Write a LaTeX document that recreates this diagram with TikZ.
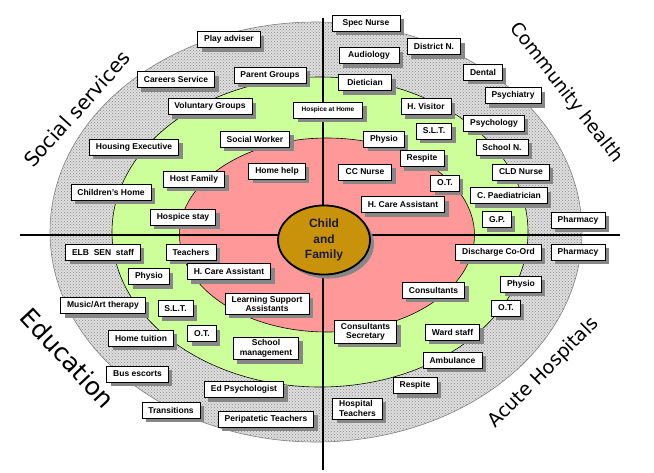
\documentclass[tikz,border=0pt]{standalone}
\usepackage{fontspec}
\setmainfont{Liberation Sans}
\newfontfamily\titlefont{DejaVu Sans}
\usepackage{tikz}
\usetikzlibrary{shapes.geometric, shadows, patterns}
\usepackage{xcolor}

\definecolor{ringgray}{RGB}{222,222,222}
\definecolor{ringgreen}{RGB}{204,255,153}
\definecolor{ringred}{RGB}{255,153,153}
\definecolor{hubgold}{RGB}{200,146,10}
\definecolor{hubtext}{RGB}{28,28,56}
\definecolor{shadowgray}{RGB}{135,135,135}

\begin{document}
\begin{tikzpicture}[
    x=1pt, y=-1pt,
    font=\fontsize{8.5}{9.5}\selectfont\bfseries,
    ring/.style={draw, ellipse, inner sep=0pt, line width=0.6pt},
    box/.style={draw, fill=white, line width=0.6pt, inner xsep=6.5pt,
                inner ysep=2.5pt, minimum height=16pt, align=center,
                drop shadow={shadow xshift=4pt, shadow yshift=-4pt,
                             fill=shadowgray, opacity=1}},
    small/.style={font=\fontsize{6.5}{7.5}\selectfont\bfseries},
    title/.style={font=\titlefont\fontsize{20}{24}\selectfont},
    axis/.style={line width=2.6pt}
]
\useasboundingbox (0,0) rectangle (654,472);

% --- Rings ---
\node[ring, draw=gray, fill=ringgray,
      postaction={pattern=crosshatch dots, pattern color=gray!90},
      minimum width=532pt, minimum height=420pt] (outer) at (316,232) {};
\node[ring, fill=ringgreen, minimum width=416pt, minimum height=310pt]
     (middle) at (320,232) {};
\node[ring, fill=ringred, minimum width=295pt, minimum height=194pt]
     (inner) at (327,235) {};

% --- Axes ---
\coordinate (top) at (323,18);
\coordinate (bottom) at (323,470);
\coordinate (left) at (20,235);
\coordinate (right) at (620,235);
\draw[axis] (top) -- (bottom);
\draw[axis] (left) -- (right);

% --- Hub ---
\node[ellipse, draw, line width=1.8pt, fill=hubgold, text=hubtext,
      minimum width=92pt, minimum height=66pt, align=center,
      font=\fontsize{12}{15.5}\selectfont\bfseries,
      drop shadow={shadow xshift=4pt, shadow yshift=-4pt,
                   fill=shadowgray, opacity=1}]
     (hub) at (324,240) {Child\\and\\Family};

% --- Social services ---
\node[box] (playadv) at (229,39.5) {Play adviser};
\node[box] (careers) at (176,79.5) {Careers Service};
\node[box] (parents) at (270,75) {Parent Groups};
\node[box] (voluntary) at (210,106.5) {Voluntary Groups};
\node[box, small, minimum width=69pt] (hospicehome) at (328,110) {Hospice at Home};
\node[box] (socialw) at (255,139) {Social Worker};
\node[box] (housing) at (134,147) {Housing Executive};
\node[box] (homehelp) at (277,171) {Home help};
\node[box] (hostfam) at (194,179) {Host Family};
\node[box] (childhome) at (111,192) {Children's Home};
\node[box] (hospicestay) at (183,217) {Hospice stay};

% --- Community health ---
\node[box, minimum width=68pt] (specnurse) at (366,23) {Spec Nurse};
\node[box] (districtn) at (434,46.5) {District N.};
\node[box, minimum width=60pt] (audiology) at (369,55.5) {Audiology};
\node[box] (dental) at (483,72) {Dental};
\node[box, minimum width=53pt] (dietician) at (365,82.5) {Dietician};
\node[box] (psychiatry) at (513,95.5) {Psychiatry};
\node[box] (hvisitor) at (426,106.5) {H. Visitor};
\node[box] (psychology) at (494,123) {Psychology};
\node[box] (sltC) at (434,131) {S.L.T.};
\node[box] (physioC) at (384,139) {Physio};
\node[box] (schooln) at (502,147) {School N.};
\node[box] (respiteC) at (422,158.5) {Respite};
\node[box, minimum width=53pt] (ccnurse) at (365,172) {CC Nurse};
\node[box] (cldnurse) at (521,172) {CLD Nurse};
\node[box] (otC) at (445,183) {O.T.};
\node[box] (paed) at (509,195.5) {C. Paediatrician};
\node[box] (hcareC) at (403,204.5) {H. Care Assistant};
\node[box] (gp) at (497,219.5) {G.P.};
\node[box] (pharmC) at (578,220) {Pharmacy};

% --- Education ---
\node[box] (elb) at (103,252) {ELB~~SEN~~staff};
\node[box] (teachers) at (191,252) {Teachers};
\node[box] (hcareE) at (229,271.5) {H. Care Assistant};
\node[box] (physioE) at (149,276.5) {Physio};
\node[box] (lsa) at (267,304) {Learning Support\\Assistants};
\node[box] (music) at (103,305.5) {Music/Art therapy};
\node[box] (sltE) at (175.5,308.5) {S.L.T.};
\node[box] (otE) at (202,333.5) {O.T.};
\node[box] (hometuition) at (141,338) {Home tuition};
\node[box] (schoolman) at (266,348.5) {School\\management};
\node[box] (busesc) at (137.5,374) {Bus escorts};
\node[box] (edpsych) at (244,389.5) {Ed Psychologist};
\node[box] (transitions) at (171,410) {Transitions};
\node[box] (peripatetic) at (266,419) {Peripatetic Teachers};

% --- Acute Hospitals ---
\node[box] (discharge) at (498.5,252) {Discharge Co-Ord};
\node[box] (pharmH) at (578,252) {Pharmacy};
\node[box] (physioH) at (521,284) {Physio};
\node[box] (consultants) at (433.5,290) {Consultants};
\node[box] (otH) at (506,308) {O.T.};
\node[box] (consec) at (365.5,332) {Consultants\\Secretary};
\node[box] (wardstaff) at (452.5,332) {Ward staff};
\node[box] (ambulance) at (452.5,360) {Ambulance};
\node[box] (respiteH) at (415,385.5) {Respite};
\node[box, align=left] (hospteach) at (357.5,408.5) {Hospital\\Teachers};

% --- Sector titles ---
\node[title, rotate=48] (social) at (77,109) {Social services};
\node[title, rotate=-52, font=\titlefont\fontsize{18.5}{22}\selectfont]
     (community) at (566,93) {Community health};
\node[title, rotate=-47, font=\titlefont\fontsize{25}{30}\selectfont]
     (education) at (68,358) {Education};
\node[title, rotate=45, font=\titlefont\fontsize{19}{23}\selectfont]
     (acute) at (544,373) {Acute Hospitals};

\end{tikzpicture}
\end{document}
